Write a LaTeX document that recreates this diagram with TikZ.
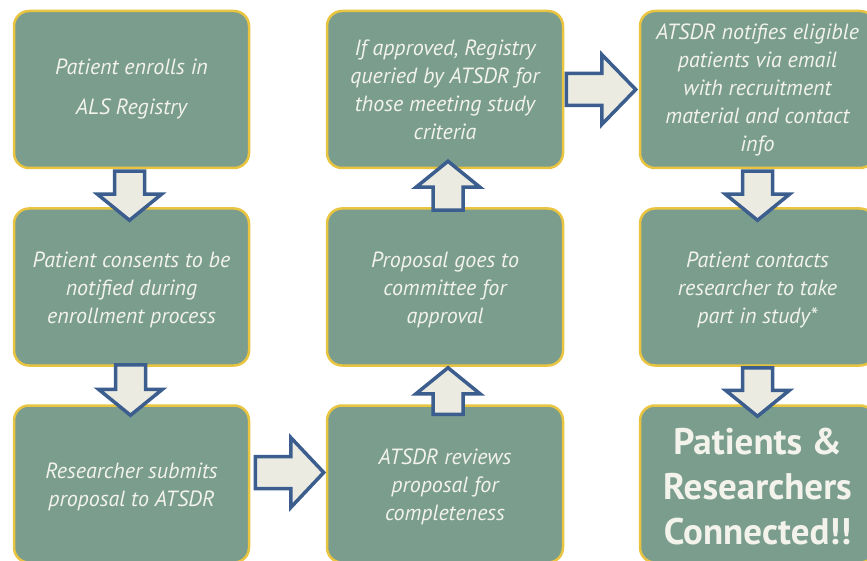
\documentclass[tikz,border=0pt]{standalone}
\usepackage{fontspec}
\setmainfont{PT Sans}
\usetikzlibrary{calc}
\definecolor{boxfill}{HTML}{7A9D8E}
\definecolor{boxline}{HTML}{E8C441}
\definecolor{arrline}{HTML}{3B5E8E}
\definecolor{arrfill}{HTML}{ECEBE2}
\definecolor{txt}{HTML}{F3F3EC}
\tikzset{
  flowbox/.style={draw=boxline, line width=2.5pt, fill=boxfill, rounded corners=15pt,
    minimum width=235pt, minimum height=157pt, inner sep=0pt, align=center, text=txt,
    font=\itshape\fontsize{22}{28}\selectfont},
  bigtext/.style={font=\bfseries\fontsize{37}{45}\selectfont},
  barrow/.style={draw=arrline, fill=arrfill, line width=3.5pt, line join=miter}
}
\newcommand\lowstrut{\rule{0pt}{21pt}}
\newcommand\blockarrow[5]{%
  \coordinate (ba-h) at ($(#2)!#5!(#1)$);
  \draw[barrow] ($(#1)!#3!90:(#2)$) -- ($(ba-h)!#3!90:(#2)$) -- ($(ba-h)!#4!90:(#2)$) -- (#2)
    -- ($(ba-h)!#4!-90:(#2)$) -- ($(ba-h)!#3!-90:(#2)$) -- ($(#1)!#3!-90:(#2)$) -- cycle;}
\begin{document}
\begin{tikzpicture}[x=1pt,y=-1pt]
\useasboundingbox (0,0) rectangle (867,561);
\node[flowbox] (a1) at (131.5,89.5) {Patient enrolls in\\[12pt]ALS Registry};
\node[flowbox] (a2) at (131.5,287) {\lowstrut Patient consents to be\\notified during\\enrollment process};
\node[flowbox] (a3) at (131.5,484) {\lowstrut Researcher submits\\proposal to ATSDR};
\node[flowbox, minimum width=236pt] (b1) at (445,89.5) {If approved, Registry\\queried by ATSDR for\\those meeting study\\criteria};
\node[flowbox, minimum width=236pt] (b2) at (445,287) {\lowstrut Proposal goes to\\committee for\\approval};
\node[flowbox, minimum width=236pt] (b3) at (445,484) {\lowstrut ATSDR reviews\\proposal for\\completeness};
\node[flowbox] (c1) at (757.5,89.5) {ATSDR notifies eligible\\patients via email\\with recruitment\\material and contact\\info};
\node[flowbox] (c2) at (757.5,287) {\lowstrut Patient contacts\\researcher to take\\part in study*};
\node[flowbox, bigtext] (c3) at (757.5,484) {\rule{0pt}{31pt}Patients \&\\Researchers\\Connected!!};
% down arrows column 1
\coordinate (s1) at ($(a1.south)+(-2,2)$); \coordinate (e1) at ($(a2.north)+(-2,13)$);
\blockarrow{s1}{e1}{15pt}{32pt}{26pt}
\coordinate (s2) at ($(a2.south)+(-1,-2)$); \coordinate (e2) at ($(a3.north)+(-1,11)$);
\blockarrow{s2}{e2}{15pt}{32pt}{26pt}
% right arrow a3 -> b3
\coordinate (s3) at ($(a3.east)+(5,-11.5)$); \coordinate (e3) at ($(b3.west)+(-2,-11.5)$);
\blockarrow{s3}{e3}{16pt}{35pt}{33pt}
% up arrows column 2
\coordinate (s4) at ($(b3.north)+(3,10)$); \coordinate (e4) at ($(b2.south)+(3,1)$);
\blockarrow{s4}{e4}{15pt}{32pt}{26pt}
\coordinate (s5) at ($(b2.north)+(3,3)$); \coordinate (e5) at ($(b1.south)+(3,-8)$);
\blockarrow{s5}{e5}{15pt}{32pt}{26pt}
% right arrow b1 -> c1
\coordinate (s6) at ($(b1.east)+(2,0)$); \coordinate (e6) at ($(c1.west)+(-3,0)$);
\blockarrow{s6}{e6}{16pt}{35pt}{34pt}
% down arrows column 3
\coordinate (s7) at ($(c1.south)+(0,2)$); \coordinate (e7) at ($(c2.north)+(0,13)$);
\blockarrow{s7}{e7}{15pt}{32pt}{26pt}
\coordinate (s8) at ($(c2.south)+(0,1)$); \coordinate (e8) at ($(c3.north)+(0,12)$);
\blockarrow{s8}{e8}{15pt}{32pt}{26pt}
\end{tikzpicture}
\end{document}
